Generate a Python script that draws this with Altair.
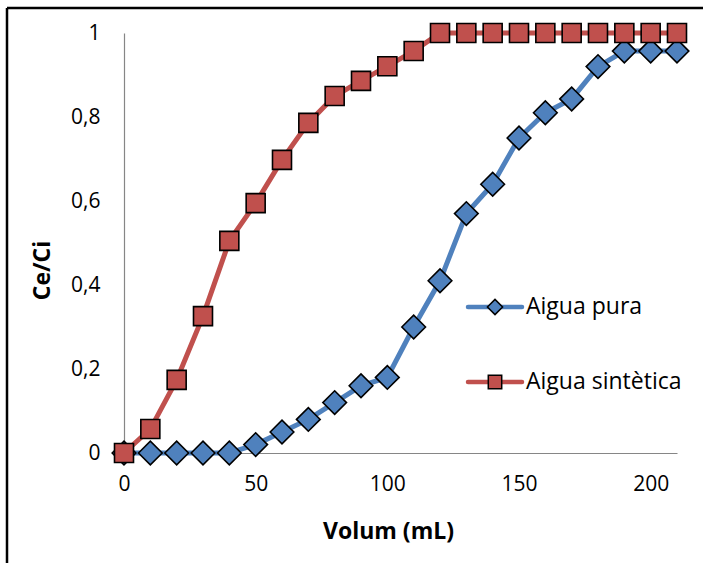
import altair as alt
import pandas as pd

# ---- data ----
volum = [0, 10, 20, 30, 40, 50, 60, 70, 80, 90, 100, 110, 120, 130, 140, 150, 160, 170, 180, 190, 200, 210]
aigua_pura = [0, 0, 0, 0, 0, 0.02, 0.05, 0.08, 0.12, 0.16, 0.18, 0.30, 0.41, 0.57, 0.64, 0.75, 0.81, 0.843, 0.92, 0.957, 0.957, 0.957]
aigua_sintetica = [0, 0.057, 0.174, 0.326, 0.505, 0.595, 0.698, 0.786, 0.85, 0.886, 0.921, 0.957, 1, 1, 1, 1, 1, 1, 1, 1, 1, 1]
series_names = ["Aigua pura", "Aigua sintètica"]
x_ticks = [0, 50, 100, 150, 200]
y_ticks = [0, 0.2, 0.4, 0.6, 0.8, 1]

BLUE = "#4F81BD"
RED = "#C0504D"
AXIS = "#868686"
FONT = "Open Sans"

df_p = pd.DataFrame({"Volum": volum, "Ce": aigua_pura})
df_s = pd.DataFrame({"Volum": volum, "Ce": aigua_sintetica})

x_enc = alt.X(
    "Volum:Q",
    scale=alt.Scale(domain=[0, 210], nice=False),
    axis=alt.Axis(
        values=x_ticks, title="Volum (mL)", titleX=264, titleY=78,
        titleAlign="center", titleBaseline="middle",
        labelPadding=20, labelFlush=False,
    ),
)
y_enc = alt.Y(
    "Ce:Q",
    scale=alt.Scale(domain=[0, 1], nice=False),
    axis=alt.Axis(
        values=y_ticks, title="Ce/Ci",
        labelExpr="replace(format(datum.value, '~g'), '.', ',')",
        titleAngle=270, titleX=-82, titleY=237,
        titleAlign="center", titleBaseline="middle",
        labelPadding=24, labelFlush=False,
    ),
)

line_p = alt.Chart(df_p).mark_line(color=BLUE, strokeWidth=5).encode(x=x_enc, y=y_enc)
pts_p = alt.Chart(df_p).mark_point(
    shape="diamond", size=560, filled=True, fill=BLUE, stroke="black", strokeWidth=1.6, opacity=1
).encode(x=x_enc, y=y_enc)
line_s = alt.Chart(df_s).mark_line(color=RED, strokeWidth=5).encode(x=x_enc, y=y_enc)
pts_s = alt.Chart(df_s).mark_point(
    shape="square", size=361, filled=True, fill=RED, stroke="black", strokeWidth=1.6, opacity=1
).encode(x=x_enc, y=y_enc)

# ---- manual legend (line + marker + label) ----
leg_layers = []
for name, col, shp, sz, ly in [
    (series_names[0], BLUE, "diamond", 230, 274),
    (series_names[1], RED, "square", 180, 349),
]:
    ldf = pd.DataFrame({"s": [name]})
    leg_layers.append(
        alt.Chart(ldf).mark_rule(color=col, strokeWidth=4.5, strokeCap="round").encode(
            x=alt.value(344), x2=alt.value(398), y=alt.value(ly)
        )
    )
    leg_layers.append(
        alt.Chart(ldf).mark_point(
            shape=shp, size=sz, filled=True, fill=col, stroke="black", strokeWidth=1.5, opacity=1
        ).encode(x=alt.value(371), y=alt.value(ly))
    )
    leg_layers.append(
        alt.Chart(ldf).mark_text(align="left", baseline="middle", font=FONT, fontSize=23, color="black").encode(
            x=alt.value(402), y=alt.value(ly), text="s:N"
        )
    )

# ---- outer frame (top and left edges visible) ----
fdf = pd.DataFrame({"k": [0]})
frame_left = alt.Chart(fdf).mark_rule(color="black", strokeWidth=2.5).encode(
    x=alt.value(-117), y=alt.value(-25), y2=alt.value(540)
)
frame_top = alt.Chart(fdf).mark_rule(color="black", strokeWidth=2.5).encode(
    x=alt.value(-117), x2=alt.value(590), y=alt.value(-25)
)

chart = alt.layer(
    line_p, pts_p, line_s, pts_s, *leg_layers, frame_left, frame_top
).properties(
    width=553,
    height=420,
    autosize=alt.AutoSizeParams(type="none"),
    padding={"left": 124, "top": 33, "right": 26, "bottom": 110},
    background="white",
).configure_view(stroke=None).configure_axis(
    grid=False,
    ticks=False,
    domainColor=AXIS,
    domainWidth=1.2,
    labelFont=FONT,
    labelFontSize=21,
    labelColor="black",
    titleFont=FONT,
    titleFontSize=23,
    titleFontWeight="bold",
    titleColor="black",
)

chart.save("out.html", embed_options={"renderer": "svg", "actions": False})
